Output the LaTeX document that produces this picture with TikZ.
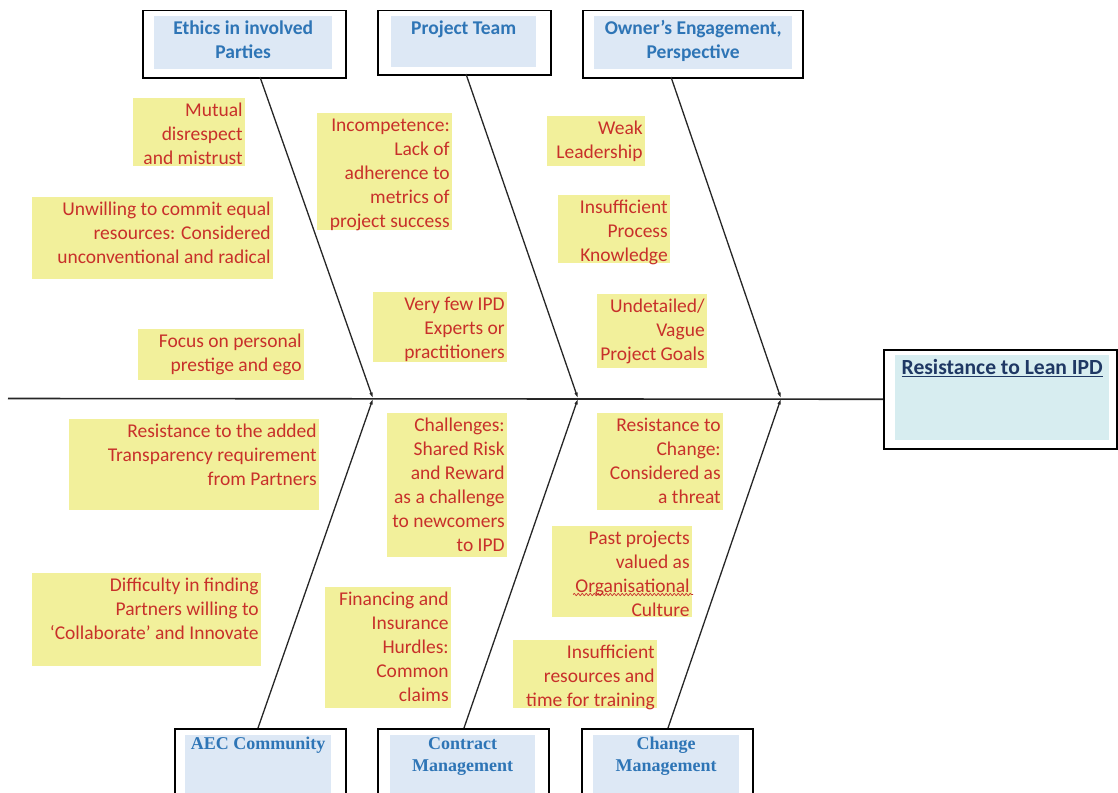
\documentclass[tikz,border=0pt]{standalone}
\usepackage{fontspec}
\setmainfont{Carlito}
\newfontfamily\serifb{Liberation Serif}
\usetikzlibrary{arrows.meta,decorations.pathmorphing}

\definecolor{notefill}{RGB}{242,240,155}
\definecolor{notered}{RGB}{200,48,42}
\definecolor{hdrblue}{RGB}{46,117,182}
\definecolor{hdrfill}{RGB}{221,232,245}
\definecolor{headfill}{RGB}{215,237,240}
\definecolor{headnavy}{RGB}{31,56,100}

\newcommand\nt[3]{\parbox[t][#2pt][t]{#1pt}{\raggedleft\rightskip=2.5pt\fontsize{19.5}{24}\selectfont\rule{0pt}{18.3pt}#3}}
\newcommand\hdrtext[3]{\parbox[t][#2pt][t]{#1pt}{\centering\fontsize{19.5}{24}\selectfont\bfseries\rule{0pt}{18.5pt}#3}}
\newcommand\bottext[3]{\parbox[t][#2pt][t]{#1pt}{\centering\serifb\bfseries\fontsize{18}{22}\selectfont\rule{0pt}{14pt}#3}}

\tikzset{
  hbox/.style={draw=black, line width=1.5pt, inner sep=0pt, anchor=north west},
  hfill/.style={fill=hdrfill, inner sep=0pt, anchor=north west, text=hdrblue},
  note/.style={fill=notefill, inner sep=0pt, anchor=north west, text=notered},
  rib/.style={line width=1.3pt, draw=black!85, -{Latex[length=6pt,width=3.5pt]}},
  spine/.style={line width=1.6pt, draw=black!85},
}

\begin{document}
\begin{tikzpicture}[x=1pt,y=-1pt]
\clip (0,0) rectangle (1118,792);
\fill[white] (0,0) rectangle (1118,792);

% head
\node[hbox, minimum width=233pt, minimum height=99pt] (hd) at (883,349) {};
\node[inner sep=0pt, anchor=north west, fill=headfill, text=headnavy] (hdf) at (895,355)
  {\parbox[t][85pt][t]{214pt}{\centering\fontsize{21.6}{24}\selectfont\bfseries\rule{0pt}{19.5pt}\underline{Resistance to Lean IPD}}};

% top category boxes
\node[hbox, minimum width=203pt, minimum height=67pt] (b1) at (142,10) {};
\node[hfill] (b1f) at (154,16) {\hdrtext{178}{53}{Ethics in involved\\Parties}};
\node[hbox, minimum width=173pt, minimum height=64pt] (b2) at (377,10) {};
\node[hfill] (b2f) at (391,16) {\hdrtext{145}{51}{Project Team}};
\node[hbox, minimum width=220pt, minimum height=67pt] (b3) at (582,10) {};
\node[hfill] (b3f) at (594,16) {\hdrtext{198}{53}{Owner’s Engagement,\\Perspective}};

% bottom category boxes
\node[hbox, minimum width=171pt, minimum height=90pt] (c1) at (174,728) {};
\node[hfill] (c1f) at (185,735) {\bottext{146}{80}{AEC Community}};
\node[hbox, minimum width=171pt, minimum height=90pt] (c2) at (377,728) {};
\node[hfill] (c2f) at (390,735) {\bottext{145}{80}{Contract\\Management}};
\node[hbox, minimum width=171pt, minimum height=90pt] (c3) at (581,728) {};
\node[hfill] (c3f) at (593,735) {\bottext{146}{80}{Change\\Management}};

% spine and ribs
\coordinate (tail) at (8,398.5);
\coordinate (j1) at (373,398.5);
\coordinate (j2) at (578,398.5);
\coordinate (j3) at (781,398.5);
\coordinate (t1) at (260,77);
\coordinate (t2) at (466,74);
\coordinate (t3) at (671,77);
\coordinate (u1) at (258,728);
\coordinate (u2) at (464,728);
\coordinate (u3) at (668,728);
\draw[spine] (tail) -- (hd.west);
\draw[rib] (t1) -- (j1);
\draw[rib] (t2) -- (j2);
\draw[rib] (t3) -- (j3);
\draw[rib] (u1) -- (j1);
\draw[rib] (u2) -- (j2);
\draw[rib] (u3) -- (j3);

% notes
\node[note] (n1) at (133,98) {\nt{112}{68}{Mutual\\disrespect\\and mistrust}};
\node[note] (n2) at (32,197) {\nt{241}{82}{Unwilling to commit equal\\resources: Considered\\unconventional and radical}};
\node[note] (n3) at (138,329) {\nt{166}{51}{Focus on personal\\prestige and ego}};
\node[note] (n4) at (317,113) {\nt{135}{117}{Incompetence:\\Lack of\\adherence to\\metrics of\\project success}};
\node[note] (n5) at (373,292) {\nt{134}{70}{Very few IPD\\Experts or\\practitioners}};
\node[note] (n6) at (547,116) {\nt{98}{50}{Weak\\Leadership}};
\node[note] (n7) at (558,195) {\nt{112}{68}{Insufficient\\Process\\Knowledge}};
\node[note] (n8) at (597,294) {\nt{110}{74}{Undetailed/\\Vague\\Project Goals}};
\node[note] (n9) at (69,419) {\nt{250}{91}{Resistance to the added\\Transparency requirement\\from Partners}};
\node[note] (n10) at (387,413) {\nt{120}{144}{Challenges:\\Shared Risk\\and Reward\\as a challenge\\to newcomers\\to IPD}};
\node[note] (n11) at (597,413) {\nt{126}{97}{Resistance to\\Change:\\Considered as\\a threat}};
\node[note] (n12) at (552,526) {\nt{140}{91}{Past projects\\valued as\\Organisational\\Culture}};
\node[note] (n13) at (32,573) {\nt{229}{93}{Difficulty in finding\\Partners willing to\\‘Collaborate’ and Innovate}};
\node[note] (n14) at (325,587) {\nt{126}{121}{Financing and\\Insurance\\Hurdles:\\Common\\claims}};
\node[note] (n15) at (513,640) {\nt{144}{68}{Insufficient\\resources and\\time for training}};

% spelling squiggle
\coordinate (sq1) at (573,594.5);
\coordinate (sq2) at (693,594.5);
\draw[notered, line width=0.7pt, decorate, decoration={snake, amplitude=1.1pt, segment length=4pt}] (sq1) -- (sq2);
\end{tikzpicture}
\end{document}
